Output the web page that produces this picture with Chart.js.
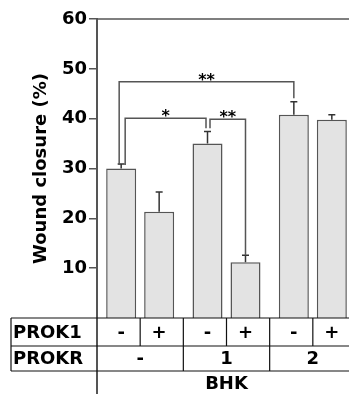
<!DOCTYPE html>
<html>
<head>
<meta charset="utf-8">
<script src="https://cdn.jsdelivr.net/npm/chart.js@4.4.0/dist/chart.umd.min.js"></script>
<style>
  html, body { margin: 0; padding: 0; background: #fff; overflow: hidden; }
</style>
</head>
<body>
<canvas id="myChart" width="356" height="394"></canvas>
<script>
const prokrGroups = ['-', '1', '2'];
const prok1Signs = ['-', '+'];
const closureMinus = [30.0, 35.0, 40.8];
const closurePlus = [21.3, 11.2, 39.8];
const errMinus = [0.9, 2.4, 2.6];
const errPlus = [4.0, 1.4, 1.0];
const yTicks = [10, 20, 30, 40, 50, 60];

// significance brackets, bars given as [dataset, index]
const sigLabels = ['**', '*', '**'];
const sigFrom = [[0, 0], [0, 0], [0, 1]];
const sigTo = [[0, 2], [0, 1], [1, 1]];
const sigHeight = [47.4, 40.1, 39.9];
const sigLegFrom = [30.7, 30.7, 38.1];
const sigLegTo = [44.1, 38.1, 12.6];

Chart.defaults.font.family = '"DejaVu Sans", sans-serif';
Chart.defaults.color = '#000';

const errors = [errMinus, errPlus];

const extrasPlugin = {
    id: 'extras',
    afterDatasetsDraw(chart) {
        const c = chart.ctx;
        const y = chart.scales.y;
        c.save();
        // error bars (upper only)
        c.strokeStyle = '#333';
        c.lineWidth = 1.5;
        chart.data.datasets.forEach((ds, di) => {
            chart.getDatasetMeta(di).data.forEach((bar, i) => {
                const top = y.getPixelForValue(ds.data[i] + errors[di][i]);
                c.beginPath();
                c.moveTo(bar.x, bar.y);
                c.lineTo(bar.x, top);
                c.moveTo(bar.x - 3.5, top);
                c.lineTo(bar.x + 3.5, top);
                c.stroke();
            });
        });
        // brackets
        const legShift = [[-2, 0], [4, -1.5], [2.5, 0]];
        c.strokeStyle = '#555';
        c.lineWidth = 1.5;
        c.fillStyle = '#000';
        c.font = 'bold 16px "DejaVu Sans"';
        c.textAlign = 'center';
        c.textBaseline = 'alphabetic';
        sigLabels.forEach((lab, k) => {
            const a = chart.getDatasetMeta(sigFrom[k][0]).data[sigFrom[k][1]];
            const b = chart.getDatasetMeta(sigTo[k][0]).data[sigTo[k][1]];
            const x1 = a.x + legShift[k][0];
            const x2 = b.x + legShift[k][1];
            const yh = y.getPixelForValue(sigHeight[k]);
            c.beginPath();
            c.moveTo(x1, y.getPixelForValue(sigLegFrom[k]));
            c.lineTo(x1, yh);
            c.lineTo(x2, yh);
            c.lineTo(x2, y.getPixelForValue(sigLegTo[k]));
            c.stroke();
            c.fillText(lab, (x1 + x2) / 2, yh + 3);
        });
        c.restore();
    },
    afterDraw(chart) {
        const c = chart.ctx;
        const area = chart.chartArea;
        const x = chart.scales.x;
        const b = area.bottom;
        const row1 = b + 28, row2 = b + 53;
        c.save();
        // top frame line at 60
        c.strokeStyle = '#555';
        c.lineWidth = 1.5;
        c.beginPath();
        c.moveTo(area.left, area.top);
        c.lineTo(area.right, area.top);
        c.stroke();
        // y axis continues down through the table
        c.lineWidth = 2;
        c.beginPath();
        c.moveTo(area.left, b);
        c.lineTo(area.left, chart.height);
        c.stroke();
        // table
        c.strokeStyle = '#111';
        c.lineWidth = 1.2;
        c.beginPath();
        [b, row1, row2].forEach(yy => {
            c.moveTo(11, yy);
            c.lineTo(area.right, yy);
        });
        c.moveTo(11, b);
        c.lineTo(11, row2);
        prokrGroups.forEach((g, i) => {
            const cx = x.getPixelForValue(i);
            c.moveTo(cx, b);
            c.lineTo(cx, row1);
            if (i > 0) {
                const edge = (cx + x.getPixelForValue(i - 1)) / 2;
                c.moveTo(edge, b);
                c.lineTo(edge, row2);
            }
        });
        c.stroke();
        c.fillStyle = '#000';
        c.font = 'bold 18px "DejaVu Sans"';
        c.textBaseline = 'middle';
        c.textAlign = 'left';
        c.fillText('PROK1', 13, (b + row1) / 2 + 1);
        c.fillText('PROKR', 13, (row1 + row2) / 2 + 1);
        c.textAlign = 'center';
        chart.data.datasets.forEach((ds, di) => {
            chart.getDatasetMeta(di).data.forEach(bar => {
                c.fillText(prok1Signs[di], bar.x, (b + row1) / 2 + 1);
            });
        });
        prokrGroups.forEach((g, i) => {
            c.fillText(g, x.getPixelForValue(i), (row1 + row2) / 2 + 1);
        });
        c.fillText('BHK', (area.left + area.right) / 2, row2 + 13);
        c.restore();
    }
};

const ctx = document.getElementById('myChart').getContext('2d');

const myChart = new Chart(ctx, {
    type: 'bar',
    data: {
        labels: prokrGroups,
        datasets: [{
            label: 'PROK1 -',
            data: closureMinus,
            backgroundColor: '#e3e3e3',
            borderColor: '#555',
            borderWidth: 1.5,
            categoryPercentage: 0.88,
            barPercentage: 0.79
        }, {
            label: 'PROK1 +',
            data: closurePlus,
            backgroundColor: '#e3e3e3',
            borderColor: '#555',
            borderWidth: 1.5,
            categoryPercentage: 0.88,
            barPercentage: 0.79
        }]
    },
    options: {
        responsive: false,
        animation: false,
        layout: {
            padding: { top: 19, bottom: 76, left: 0, right: 0 }
        },
        plugins: {
            legend: { display: false },
            tooltip: { enabled: false }
        },
        scales: {
            x: { display: false },
            y: {
                min: 0,
                max: 60,
                afterFit: (s) => { s.width = 97; },
                afterBuildTicks: (s) => { s.ticks = yTicks.map(v => ({ value: v })); },
                border: { display: true, color: '#555', width: 2 },
                grid: {
                    drawOnChartArea: false,
                    drawTicks: true,
                    tickLength: 8,
                    color: '#555',
                    lineWidth: 1.5
                },
                ticks: {
                    padding: 2,
                    color: '#000',
                    font: { size: 18, weight: 'bold' }
                },
                title: {
                    display: true,
                    text: 'Wound closure (%)',
                    color: '#000',
                    padding: { top: 31, bottom: 0 },
                    font: { size: 18, weight: 'bold' }
                }
            }
        }
    },
    plugins: [extrasPlugin]
});
</script>
</body>
</html>
